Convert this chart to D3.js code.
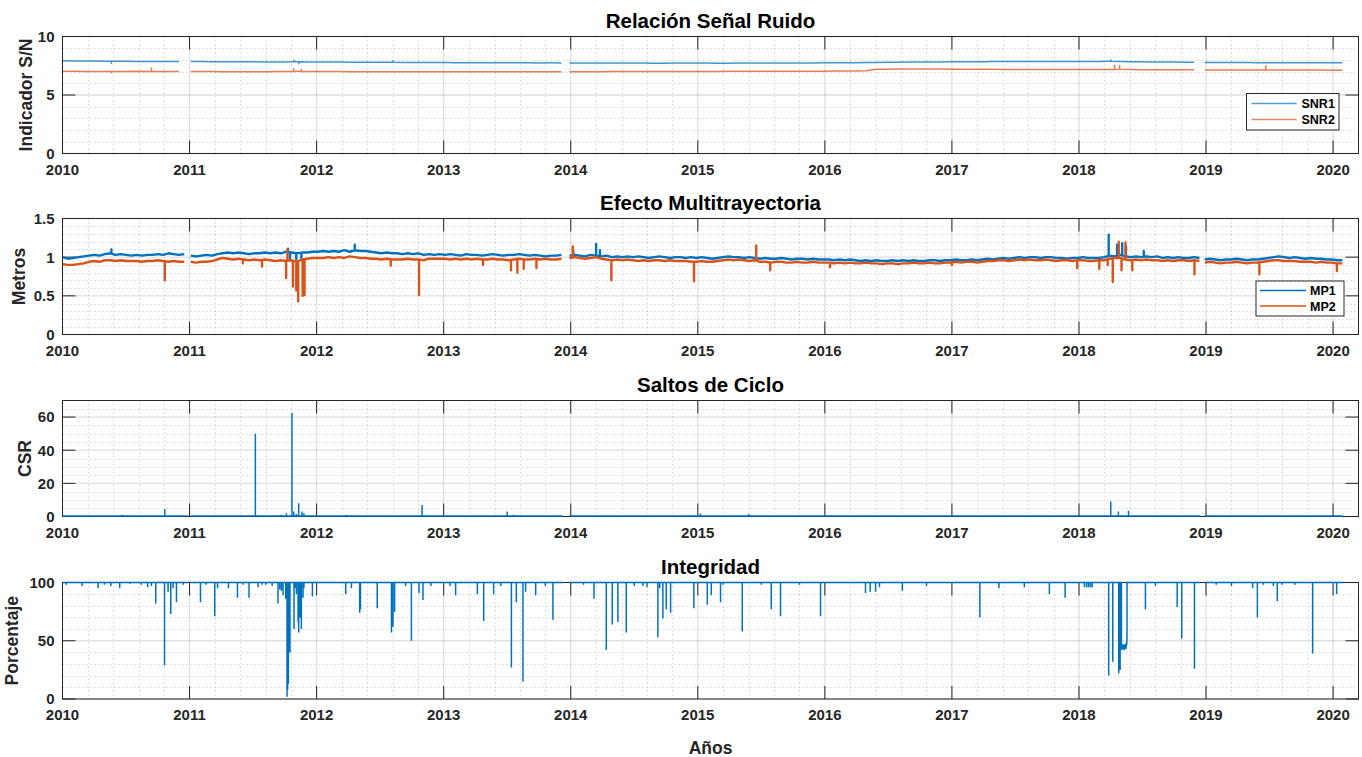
<!DOCTYPE html>
<html><head><meta charset="utf-8">
<script src="https://cdn.jsdelivr.net/npm/d3@7/dist/d3.min.js"></script>
<style>
body{margin:0;background:#fff;}
svg text{font-family:"Liberation Sans",Arial,Helvetica,sans-serif;font-weight:bold;}
</style></head><body>
<svg id="c" width="1362" height="757"></svg>
<script>
// ---------------- DATA ----------------
const yearTicks = [2010,2011,2012,2013,2014,2015,2016,2017,2018,2019,2020];
// continuous data spans (gaps between them)
const spanStarts = [2010.0, 2011.01, 2013.99, 2018.99];
const spanEnds   = [2010.985, 2013.935, 2018.955, 2020.075];

// SNR (monthly readings, step 1/12 yr from each span start)
const snrStep = 1/12;
const snr1 = [
 [7.92,7.91,7.90,7.90,7.89,7.88,7.88,7.87,7.87,7.86,7.87,7.86],
 [7.86,7.86,7.85,7.85,7.85,7.84,7.84,7.83,7.83,7.82,7.84,7.82, 7.82,7.81,7.81,7.80,7.80,7.80,7.79,7.79,7.78,7.78,7.77,7.77, 7.77,7.76,7.76,7.76,7.76,7.75,7.75,7.75,7.75,7.74,7.75,7.74],
 [7.74,7.74,7.74,7.73,7.73,7.73,7.73,7.73,7.72,7.72,7.73,7.73, 7.73,7.73,7.72,7.72,7.73,7.73,7.73,7.73,7.74,7.74,7.74,7.74, 7.75,7.75,7.76,7.76,7.77,7.78,7.79,7.80,7.81,7.82,7.83,7.83, 7.84,7.84,7.85,7.85,7.86,7.86,7.86,7.87,7.87,7.87,7.87,7.87, 7.87,7.87,7.86,7.88,7.86,7.85,7.84,7.83,7.82,7.81,7.80,7.80],
 [7.78,7.78,7.77,7.77,7.77,7.76,7.76,7.76,7.76,7.76,7.76,7.75,7.75,7.75]
];
const snr2 = [
 [7.02,7.02,7.01,7.01,7.00,7.00,7.01,7.03,7.01,7.00,7.00,7.00],
 [7.00,7.00,7.00,6.99,6.99,6.99,6.99,6.99,7.00,7.01,7.02,7.01, 7.00,7.00,7.00,6.99,6.99,6.99,6.99,6.99,6.98,6.98,6.98,6.98, 6.98,6.98,6.98,6.99,6.99,6.99,6.99,6.98,6.98,6.99,6.99,6.99],
 [6.99,6.99,6.99,6.99,7.00,7.00,7.00,7.00,7.00,7.00,7.01,7.01, 7.01,7.01,7.01,7.02,7.02,7.02,7.03,7.03,7.03,7.03,7.04,7.04, 7.04,7.05,7.05,7.06,7.08,7.20,7.21,7.22,7.22,7.22,7.22,7.22, 7.21,7.21,7.20,7.20,7.20,7.19,7.19,7.19,7.18,7.18,7.18,7.18, 7.17,7.17,7.17,7.18,7.20,7.17,7.16,7.16,7.16,7.16,7.15,7.15],
 [7.14,7.14,7.14,7.14,7.14,7.13,7.13,7.13,7.13,7.13,7.13,7.13,7.12,7.12]
];
const snr1SpikeDates  = [2010.385, 2011.82, 2011.86, 2012.6, 2018.25];
const snr1SpikeValues = [7.70, 7.98, 7.68, 7.92, 8.0];
const snr2SpikeDates  = [2010.385, 2010.70, 2011.82, 2011.88, 2018.28, 2018.32, 2019.47];
const snr2SpikeValues = [6.90, 7.30, 7.25, 7.20, 7.55, 7.50, 7.50];

// Multipath (half-monthly readings, step 1/24 yr)
const mpStep = 1/24;
const mp1 = [
 [1.00,0.98,0.99,1.00,1.01,1.02,1.03,1.02,1.04,1.05,1.03,1.04,1.03,1.02,1.03,1.02,1.03,1.03,1.04,1.03,1.05,1.04,1.03,1.04],
 [1.02,1.01,1.02,1.03,1.02,1.04,1.05,1.06,1.05,1.06,1.05,1.04,1.05,1.05,1.06,1.05,1.06,1.05,1.07,1.06,1.05,1.06,1.06,1.07,
  1.07,1.08,1.07,1.08,1.07,1.09,1.07,1.09,1.08,1.08,1.07,1.06,1.05,1.06,1.05,1.05,1.04,1.05,1.04,1.05,1.03,1.04,1.03,1.04,
  1.03,1.04,1.03,1.02,1.04,1.03,1.03,1.02,1.03,1.04,1.03,1.02,1.03,1.03,1.04,1.03,1.02,1.03,1.02,1.01,1.02,1.02,1.03],
 [1.02,1.03,1.02,1.01,1.03,1.02,1.01,1.02,1.00,1.01,1.00,1.01,1.00,1.01,1.00,0.99,1.00,1.01,1.00,0.99,1.00,1.00,0.99,1.00,
  0.99,1.00,0.99,0.98,0.99,1.00,1.01,1.00,1.00,0.99,1.00,0.99,0.98,0.99,0.98,0.98,0.99,0.98,0.97,0.98,0.98,0.97,0.98,0.97,
  0.97,0.97,0.96,0.97,0.96,0.97,0.96,0.95,0.96,0.95,0.96,0.95,0.95,0.96,0.95,0.96,0.95,0.96,0.95,0.95,0.96,0.96,0.95,0.96,
  0.96,0.97,0.96,0.96,0.97,0.96,0.97,0.98,0.97,0.98,0.99,0.98,0.99,1.00,0.99,1.00,1.00,0.99,1.00,1.00,0.99,0.99,0.98,0.99,
  0.99,1.00,0.99,0.99,0.99,1.00,1.02,1.01,1.03,1.01,1.00,1.01,1.00,1.01,1.00,1.01,0.99,1.00,0.99,1.00,0.99,0.99,1.00,0.99],
 [0.97,0.98,0.97,0.96,0.97,0.97,0.98,0.97,0.96,0.97,0.97,0.98,0.99,1.00,1.01,1.00,0.99,1.00,0.99,0.98,0.99,0.98,0.98,0.97,0.97,0.96,0.96]
];
const mp2 = [
 [0.91,0.90,0.90,0.91,0.92,0.94,0.95,0.94,0.96,0.96,0.95,0.96,0.95,0.95,0.95,0.94,0.95,0.95,0.96,0.95,0.94,0.95,0.94,0.94],
 [0.94,0.93,0.94,0.94,0.95,0.97,0.99,0.98,0.97,0.98,0.97,0.96,0.97,0.96,0.97,0.96,0.95,0.96,0.95,0.96,0.94,0.97,0.98,0.99,
  0.99,0.99,1.00,0.99,1.00,0.99,1.01,1.00,0.99,0.99,0.98,0.98,0.97,0.98,0.97,0.97,0.97,0.98,0.97,0.97,0.96,0.98,0.98,0.98,
  0.98,0.97,0.98,0.97,0.98,0.97,0.98,0.97,0.97,0.98,0.97,0.97,0.96,0.97,0.98,0.97,0.97,0.98,0.97,0.98,0.97,0.97,0.98],
 [0.99,1.00,0.99,0.98,0.99,1.00,0.98,0.97,0.96,0.97,0.96,0.97,0.96,0.95,0.96,0.95,0.96,0.96,0.95,0.96,0.95,0.95,0.95,0.94,
  0.94,0.95,0.94,0.94,0.95,0.96,0.97,0.96,0.97,0.96,0.95,0.96,0.94,0.94,0.93,0.94,0.94,0.93,0.93,0.94,0.93,0.93,0.94,0.93,
  0.93,0.93,0.92,0.93,0.92,0.93,0.92,0.92,0.93,0.92,0.92,0.91,0.92,0.92,0.91,0.92,0.92,0.93,0.92,0.92,0.93,0.92,0.92,0.93,
  0.93,0.94,0.93,0.94,0.94,0.93,0.94,0.95,0.95,0.96,0.96,0.95,0.96,0.97,0.96,0.97,0.96,0.96,0.97,0.96,0.95,0.96,0.96,0.95,
  0.96,0.96,0.95,0.95,0.96,0.96,0.98,0.99,0.99,0.97,0.96,0.97,0.96,0.97,0.96,0.96,0.95,0.96,0.95,0.96,0.96,0.95,0.96,0.95],
 [0.93,0.94,0.93,0.92,0.93,0.93,0.94,0.93,0.92,0.93,0.93,0.94,0.95,0.96,0.96,0.95,0.95,0.95,0.94,0.94,0.94,0.93,0.94,0.93,0.93,0.92,0.92]
];
const mp1SpikeDates  = [2010.385, 2011.775, 2011.79, 2011.84, 2011.88, 2012.30, 2014.02, 2014.20, 2014.23, 2018.234, 2018.30, 2018.34, 2018.37, 2018.51];
const mp1SpikeValues = [1.10, 1.11, 0.98, 0.97, 0.99, 1.16, 1.08, 1.17, 1.09, 1.29, 1.16, 1.18, 1.14, 1.08];
const mp2SpikeDates  = [2010.805, 2011.42, 2011.57, 2011.76, 2011.77, 2011.814, 2011.84, 2011.855, 2011.89, 2011.905, 2012.583, 2012.806, 2013.31, 2013.53, 2013.58, 2013.63, 2013.73,
                        2014.016, 2014.32, 2014.97, 2015.46, 2015.57, 2016.04, 2017.0, 2017.986, 2018.16, 2018.226, 2018.266, 2018.313, 2018.335, 2018.366, 2018.42, 2018.909, 2019.42, 2020.03];
const mp2SpikeValues = [0.70, 0.92, 0.88, 0.73, 1.10, 0.62, 0.57, 0.43, 0.50, 0.51, 0.89, 0.51, 0.90, 0.83, 0.80, 0.85, 0.86,
                        1.14, 0.70, 0.69, 1.15, 0.83, 0.87, 0.90, 0.86, 0.85, 0.90, 0.68, 1.20, 0.83, 1.19, 0.83, 0.78, 0.78, 0.82];

// Cycle slips (baseline value, spikes)
const csrBase = 0.3;
const csrDates  = [2010.2, 2010.47, 2010.805, 2011.3, 2011.518, 2011.723, 2011.762, 2011.806, 2011.82, 2011.84, 2011.859, 2011.885, 2011.9, 2012.235, 2012.83, 2013.5, 2013.55, 2014.55, 2015.02, 2015.4, 2016.0, 2018.25, 2018.31, 2018.39, 2018.96, 2019.3];
const csrValues = [0.8, 1, 4.5, 0.6, 50, 1, 2, 62.4, 3, 1.5, 8, 3, 2, 1, 7, 3, 1, 0.8, 1.8, 1.5, 0.6, 9, 3, 3.5, 1, 0.8];

// Integrity (baseline 100 %, dips; consecutive days stay low)
const integBase = 100;
const integDates = [2010.03,2010.154,2010.28,2010.33,2010.38,2010.45,2010.53,2010.62,2010.67,2010.70,2010.734,2010.803,2010.831,2010.852,2010.87,2010.897,2010.95,
 2011.086,2011.13,2011.198,2011.22,2011.306,2011.377,2011.42,2011.468,2011.539,2011.57,2011.60,2011.65,2011.696,2011.71,2011.723,2011.736,2011.757,2011.767,2011.772,2011.778,2011.79,2011.822,2011.83,2011.841,2011.854,2011.859,2011.87,2011.88,2011.893,2011.90,2011.967,
 2012.229,2012.274,2012.339,2012.345,2012.477,2012.589,2012.601,2012.614,2012.70,2012.746,2012.806,2012.837,2012.90,
 2013.05,2013.094,2013.265,2013.315,2013.393,2013.45,2013.533,2013.572,2013.624,2013.645,2013.724,2013.80,2013.86,
 2014.10,2014.183,2014.28,2014.327,2014.371,2014.437,2014.50,2014.568,2014.60,2014.686,2014.70,2014.725,2014.752,2014.786,2014.969,
 2015.075,2015.106,2015.179,2015.20,2015.35,2015.50,2015.578,2015.651,2015.80,2015.966,
 2016.32,2016.357,2016.399,2016.43,2016.61,2016.80,2017.22,2017.37,2017.57,2017.767,2017.891,
 2018.043,2018.06,2018.075,2018.09,2018.104,2018.234,2018.266,2018.313,2018.324,
 2018.334,2018.337,2018.340,2018.342,2018.345,2018.348,2018.351,2018.353,2018.356,2018.359,2018.362,2018.364,2018.367,2018.370,2018.373,2018.375,2018.378,
 2018.523,2018.602,2018.773,2018.809,2018.909,
 2019.08,2019.20,2019.367,2019.404,2019.45,2019.53,2019.561,2019.60,2019.70,2019.839,2020.028];
const integValues = [98,97,95,98,97,95,99,98,96,97,82,29,92,73,95,83,98,
 83,98,71,95,95,87,98,87,96,98,98,97,82,94,93,89,86,2,8,13,40,60,95,90,66,57,70,60,87,95,88,
 90,95,74,77,78,57,62,75,97,50,91,85,97,
 97,89,90,67,90,97,27,83,15,92,89,97,68,
 98,86,42,64,66,57,97,97,96,53,95,69,77,74,78,
 81,89,83,98,58,98,77,71,98,71,
 91,92,92,96,93,97,70,95,96,90,87,
 96,96,96,96,96,20,32,22,25,
 45,42,47,44,46,43,47,45,42,46,44,47,45,43,48,46,53,
 77,97,79,52,26,
 98,97,95,70,98,97,84,98,98,39,90];

// ---------------- CHART ----------------
const svg = d3.select("#c");
const x = d3.scaleLinear().domain([2010, 2020.2]).range([62.5, 1358.5]);
const L = x.range()[0], R = x.range()[1];
const BLUE = "#0072BD", ORANGE = "#D95319", AX = "#262626";
const DAY = 1/365;

const panels = [
 {top:36.5, bottom:153.5, domain:[0,10], ticks:[0,5,10], minor:1, fmt:d3.format("d"),
  title:"Relación Señal Ruido", ylabel:"Indicador S/N", ylabX:31.5},
 {top:218.5, bottom:334.5, domain:[0,1.5], ticks:[0,0.5,1,1.5], minor:0.1, fmt:d=>String(d),
  title:"Efecto Multitrayectoria", ylabel:"Metros", ylabX:25},
 {top:400.5, bottom:516.5, domain:[0,70], ticks:[0,20,40,60], minor:5, fmt:d3.format("d"),
  title:"Saltos de Ciclo", ylabel:"CSR", ylabX:30.5},
 {top:582.5, bottom:699, domain:[0,100], ticks:[0,50,100], minor:10, fmt:d3.format("d"),
  title:"Integridad", ylabel:"Porcentaje", ylabX:18}
];

const minorX = d3.range(0, 52).map(i => 2010 + i*0.2)
  .filter(v => Math.abs(v - Math.round(v)) > 1e-6 && v < 2020.19);

function segPoints(start, step, vals){ return vals.map((v,i)=>[start + i*step, v]); }
function withSpikes(pts, sd, sv){
  const out = pts.slice();
  sd.forEach((d,k)=>{
    if (d < pts[0][0] || d > pts[pts.length-1][0]) return;
    let i = d3.bisector(p=>p[0]).right(pts, d) - 1;
    i = Math.max(0, Math.min(i, pts.length-2));
    const a = pts[i], b = pts[i+1];
    const f = (d - a[0]) / (b[0] - a[0]);
    const base = a[1] + (b[1]-a[1]) * f;
    out.push([d, base], [d + 1e-7, sv[k]], [d + 2e-7, base]);
  });
  return out.sort((p,q)=>p[0]-q[0]);
}

panels.forEach((p, pi) => {
  const g = svg.append("g");
  const y = d3.scaleLinear().domain(p.domain).range([p.bottom, p.top]);
  p.y = y; p.g = g;
  // minor grid
  const minorY = d3.range(p.domain[0] + p.minor, p.domain[1] - p.minor/2, p.minor)
    .filter(v => !p.ticks.some(t => Math.abs(t - v) < 1e-6));
  g.selectAll(".mgx").data(minorX).join("line")
    .attr("x1", d=>Math.round(x(d))+0.5).attr("x2", d=>Math.round(x(d))+0.5)
    .attr("y1", p.top).attr("y2", p.bottom)
    .attr("stroke", AX).attr("stroke-opacity", 0.28).attr("stroke-dasharray", "1,3");
  g.selectAll(".mgy").data(minorY).join("line")
    .attr("x1", L).attr("x2", R)
    .attr("y1", d=>Math.round(y(d))+0.5).attr("y2", d=>Math.round(y(d))+0.5)
    .attr("stroke", AX).attr("stroke-opacity", 0.28).attr("stroke-dasharray", "1,3");
  // major grid
  g.selectAll(".gx").data(yearTicks).join("line")
    .attr("x1", d=>x(d)).attr("x2", d=>x(d)).attr("y1", p.top).attr("y2", p.bottom)
    .attr("stroke", AX).attr("stroke-opacity", 0.14).attr("stroke-width", 1.3);
  g.selectAll(".gy").data(p.ticks).join("line")
    .attr("x1", L).attr("x2", R).attr("y1", d=>y(d)).attr("y2", d=>y(d))
    .attr("stroke", AX).attr("stroke-opacity", 0.14).attr("stroke-width", 1.3);
  // box
  g.append("rect").attr("x", L).attr("y", p.top).attr("width", R-L).attr("height", p.bottom-p.top)
    .attr("fill", "none").attr("stroke", AX).attr("stroke-width", 1);
  // ticks (inside, both sides)
  const TL = 13;
  g.selectAll(".tb").data(yearTicks).join("line")
    .attr("x1", d=>x(d)).attr("x2", d=>x(d)).attr("y1", p.bottom).attr("y2", p.bottom-TL).attr("stroke", AX);
  g.selectAll(".tt").data(yearTicks).join("line")
    .attr("x1", d=>x(d)).attr("x2", d=>x(d)).attr("y1", p.top).attr("y2", p.top+TL).attr("stroke", AX);
  g.selectAll(".tl").data(p.ticks).join("line")
    .attr("x1", L).attr("x2", L+TL).attr("y1", d=>y(d)).attr("y2", d=>y(d)).attr("stroke", AX);
  g.selectAll(".tr").data(p.ticks).join("line")
    .attr("x1", R).attr("x2", R-TL).attr("y1", d=>y(d)).attr("y2", d=>y(d)).attr("stroke", AX);
  // tick labels
  g.selectAll(".xl").data(yearTicks).join("text")
    .attr("x", d=>x(d)).attr("y", p.bottom + 21).attr("text-anchor", "middle")
    .attr("font-size", 15).attr("fill", AX).text(d=>d);
  g.selectAll(".yl").data(p.ticks).join("text")
    .attr("x", L - 8).attr("y", d=>y(d)).attr("dy", "0.36em").attr("text-anchor", "end")
    .attr("font-size", 15).attr("fill", AX).text(d=>p.fmt(d));
  // title
  g.append("text").attr("x", (L+R)/2).attr("y", p.top - 9).attr("text-anchor", "middle")
    .attr("font-size", 20.5).attr("fill", "#000").text(p.title);
  // y label
  g.append("text").attr("transform", `translate(${p.ylabX},${(p.top+p.bottom)/2}) rotate(-90)`)
    .attr("text-anchor", "middle").attr("font-size", 17.5).attr("fill", AX).text(p.ylabel);
  // clip
  svg.append("clipPath").attr("id", "clip"+pi).append("rect")
    .attr("x", L).attr("y", p.top - 2).attr("width", R-L).attr("height", p.bottom - p.top + 4);
});

// ---- panel 1: SNR lines
{
  const p = panels[0], y = p.y;
  const line = d3.line().x(d=>x(d[0])).y(d=>y(d[1]));
  const dg = svg.append("g").attr("clip-path", "url(#clip0)");
  [[snr1, snr1SpikeDates, snr1SpikeValues, BLUE], [snr2, snr2SpikeDates, snr2SpikeValues, ORANGE]].forEach(([segs, sd, sv, col]) => {
    segs.forEach((vals, s) => {
      const pts = withSpikes(segPoints(spanStarts[s], snrStep, vals), sd, sv);
      dg.append("path").attr("d", line(pts)).attr("fill", "none")
        .attr("stroke", col).attr("stroke-width", 1.5).attr("stroke-opacity", 0.75).attr("stroke-linejoin", "round");
    });
  });
}
// ---- panel 2: MP lines
{
  const p = panels[1], y = p.y;
  const line = d3.line().x(d=>x(d[0])).y(d=>y(d[1]));
  const dg = svg.append("g").attr("clip-path", "url(#clip1)");
  [[mp1, mp1SpikeDates, mp1SpikeValues, BLUE], [mp2, mp2SpikeDates, mp2SpikeValues, ORANGE]].forEach(([segs, sd, sv, col]) => {
    segs.forEach((vals, s) => {
      const pts = withSpikes(segPoints(spanStarts[s], mpStep, vals), sd, sv);
      dg.append("path").attr("d", line(pts)).attr("fill", "none")
        .attr("stroke", col).attr("stroke-width", 2.4).attr("stroke-linejoin", "round");
    });
  });
}
// ---- panels 3 & 4: baseline with spikes / dips (consecutive days stay off the baseline)
function stemPath(base, dates, vals, y){
  const order = d3.range(dates.length).sort((a,b)=>dates[a]-dates[b]);
  let s = "";
  spanStarts.forEach((a, k) => {
    const b = spanEnds[k];
    s += `M${x(a)},${y(base)}`;
    const inSpan = order.filter(i => dates[i] >= a && dates[i] <= b);
    inSpan.forEach((i, j) => {
      const d = dates[i];
      const prevClose = j > 0 && d - dates[inSpan[j-1]] < 1.2*DAY;
      const nextClose = j < inSpan.length-1 && dates[inSpan[j+1]] - d < 1.2*DAY;
      if (!prevClose) s += `L${x(d)},${y(base)}`;
      s += `L${x(d)},${y(vals[i])}`;
      if (!nextClose) s += `L${x(d)},${y(base)}`;
    });
    s += `L${x(b)},${y(base)}`;
  });
  return s;
}
svg.append("g").attr("clip-path", "url(#clip2)").append("path")
  .attr("d", stemPath(csrBase, csrDates, csrValues, panels[2].y))
  .attr("fill", "none").attr("stroke", BLUE).attr("stroke-width", 1.5);
svg.append("g").attr("clip-path", "url(#clip3)").append("path")
  .attr("d", stemPath(integBase, integDates, integValues, panels[3].y))
  .attr("fill", "none").attr("stroke", BLUE).attr("stroke-width", 1.5);

// ---- legends
function legend(bx, by, bw, bh, items, lx1, lx2, tx, ys, opacity){
  const g = svg.append("g");
  g.append("rect").attr("x", bx).attr("y", by).attr("width", bw).attr("height", bh)
    .attr("fill", "#fff").attr("stroke", AX).attr("stroke-width", 1);
  items.forEach((it, i) => {
    g.append("line").attr("x1", lx1).attr("x2", lx2).attr("y1", ys[i]).attr("y2", ys[i])
      .attr("stroke", it[1]).attr("stroke-width", 1.5).attr("stroke-opacity", opacity);
    g.append("text").attr("x", tx).attr("y", ys[i]).attr("dy", "0.36em")
      .attr("font-size", 12.5).attr("fill", "#000").text(it[0]);
  });
}
legend(1246.5, 93.5, 92.5, 36.5, [["SNR1", BLUE], ["SNR2", ORANGE]], 1251.5, 1296.5, 1301.5, [103.5, 119.5], 0.7);
legend(1256, 281, 88, 35, [["MP1", BLUE], ["MP2", ORANGE]], 1260, 1306, 1310, [290.5, 306], 1);

// x label
svg.append("text").attr("x", (L+R)/2).attr("y", 754).attr("text-anchor", "middle")
  .attr("font-size", 17.5).attr("fill", AX).text("Años");
</script>
</body></html>
